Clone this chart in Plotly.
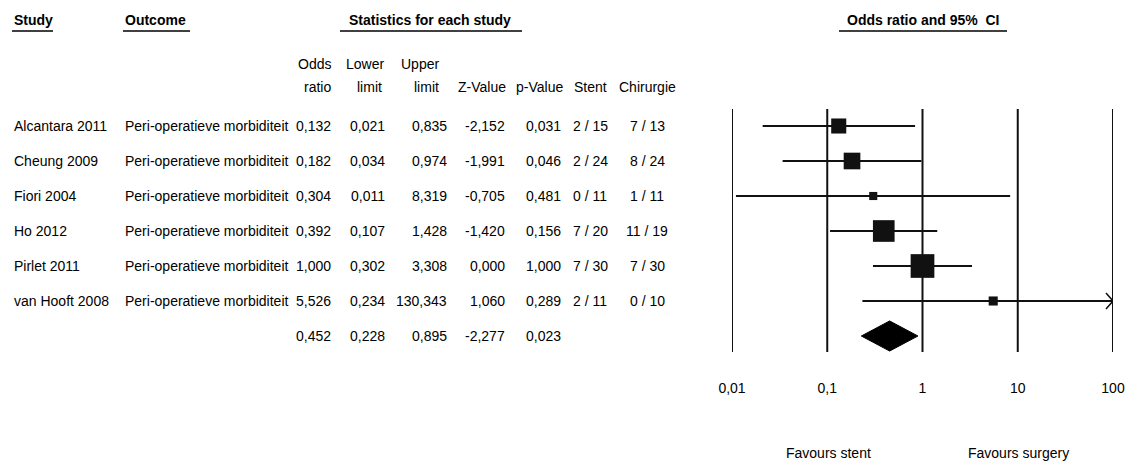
import plotly.graph_objects as go

W, H = 1129, 467

studies = ["Alcantara 2011", "Cheung 2009", "Fiori 2004", "Ho 2012", "Pirlet 2011", "van Hooft 2008"]
outcome = "Peri-operatieve morbiditeit"
odds_ratio = [0.132, 0.182, 0.304, 0.392, 1.000, 5.526]
lower = [0.021, 0.034, 0.011, 0.107, 0.302, 0.234]
upper = [0.835, 0.974, 8.319, 1.428, 3.308, 130.343]
z_value = [-2.152, -1.991, -0.705, -1.420, 0.000, 1.060]
p_value = [0.031, 0.046, 0.481, 0.156, 1.000, 0.289]
stent = ["2 / 15", "2 / 24", "0 / 11", "7 / 20", "7 / 30", "2 / 11"]
chirurgie = ["7 / 13", "8 / 24", "1 / 11", "11 / 19", "7 / 30", "0 / 10"]
weights = [13.5, 16.5, 3.9, 27.9, 33.4, 4.9]  # relative weight (box size)

sum_or, sum_lo, sum_hi, sum_z, sum_p = 0.452, 0.228, 0.895, -2.277, 0.023

tick_vals = [0.01, 0.1, 1, 10, 100]
tick_text = ["0,01", "0,1", "1", "10", "100"]
x_min, x_max = 0.01, 100

FONT = "Liberation Sans, Arial, sans-serif"
FS = 14
INK = "#111111"

# plot area in pixels
PX_L, PX_R, PX_T, PX_B = 732, 1113, 109, 352
px_per_decade = (PX_R - PX_L) / 4.0
row_px = 35.0


def fmt(v):
    return f"{v:.3f}".replace(".", ",")


def px(x):
    return x / W


def py(y):
    return 1 - y / H


fig = go.Figure()

n = len(studies)
# CI lines
for i in range(n):
    fig.add_trace(go.Scatter(
        x=[lower[i], min(upper[i], x_max)], y=[i, i], mode="lines",
        line=dict(color=INK, width=2), hoverinfo="skip", showlegend=False))

# open arrow head where the CI is truncated
for i in range(n):
    if upper[i] > x_max:
        back = x_max / 10 ** (7 / px_per_decade)
        dy = 8 / row_px
        fig.add_trace(go.Scatter(
            x=[back, x_max, back], y=[i - dy, i, i + dy], mode="lines",
            line=dict(color=INK, width=1.5), hoverinfo="skip", showlegend=False))

# boxes sized by weight
fig.add_trace(go.Scatter(
    x=odds_ratio, y=list(range(n)), mode="markers", opacity=1,
    marker=dict(symbol="square", color=INK, opacity=1,
                size=[4.1 * w ** 0.5 for w in weights], line=dict(width=0)),
    hoverinfo="skip", showlegend=False))

# summary diamond
srow = n
fig.add_trace(go.Scatter(
    x=[sum_lo, sum_or, sum_hi, sum_or, sum_lo],
    y=[srow, srow - 0.43, srow, srow + 0.43, srow],
    mode="lines", fill="toself", fillcolor="#000000",
    line=dict(color="#000000", width=1), hoverinfo="skip", showlegend=False))

shapes = []
# vertical reference lines at ticks
for tv in tick_vals:
    shapes.append(dict(type="line", xref="x", yref="y domain", x0=tv, x1=tv, y0=0, y1=1,
                       line=dict(color=INK, width=2), layer="below"))

# header underlines
for x0, x1 in [(12, 53), (123, 190), (340, 522), (839, 1007)]:
    shapes.append(dict(type="line", xref="paper", yref="paper", x0=px(x0), x1=px(x1),
                       y0=py(31), y1=py(31), line=dict(color="black", width=1.5)))

ann = []


def add_text(text, x, y, anchor="left", yref="paper", bold=False, size=FS):
    ann.append(dict(text=f"<b>{text}</b>" if bold else text, x=px(x),
                    y=py(y) if yref == "paper" else y, xref="paper", yref=yref,
                    xanchor=anchor, yanchor="middle", showarrow=False,
                    font=dict(family=FONT, size=size, color="black")))


# headers
add_text("Study", 12, 20, bold=True)
add_text("Outcome", 123, 20, bold=True)
add_text("Statistics for each study", 430, 20, anchor="center", bold=True)
add_text("Odds ratio and 95%\u00a0 CI", 923, 20, anchor="center", bold=True)

col_x = dict(orr=333, lo=387, hi=449, z=507, p=563, st=590, ch=647)
add_text("Odds", 333, 64, "right")
add_text("ratio", 333, 87, "right")
add_text("Lower", 386, 64, "right")
add_text("limit", 384, 87, "right")
add_text("Upper", 441, 64, "right")
add_text("limit", 441, 87, "right")
add_text("Z-Value", 508, 87, "right")
add_text("p-Value", 565, 87, "right")
add_text("Stent", 590, 87, "center")
add_text("Chirurgie", 647, 87, "center")

for i in range(n):
    add_text(studies[i], 12, i, "left", yref="y")
    add_text(outcome, 123, i, "left", yref="y")
    add_text(fmt(odds_ratio[i]), col_x["orr"], i, "right", yref="y")
    add_text(fmt(lower[i]), col_x["lo"], i, "right", yref="y")
    add_text(fmt(upper[i]), col_x["hi"], i, "right", yref="y")
    add_text(fmt(z_value[i]), col_x["z"], i, "right", yref="y")
    add_text(fmt(p_value[i]), col_x["p"], i, "right", yref="y")
    add_text(stent[i], col_x["st"], i, "center", yref="y")
    add_text(chirurgie[i], col_x["ch"], i, "center", yref="y")

for val, key in [(sum_or, "orr"), (sum_lo, "lo"), (sum_hi, "hi"), (sum_z, "z"), (sum_p, "p")]:
    add_text(fmt(val), col_x[key], srow, "right", yref="y")

add_text("Favours stent", 828, 453, "center")
add_text("Favours surgery", 1018, 453, "center")

top_row = -(17 / row_px)
bot_row = (PX_B - 126) / row_px

fig.update_layout(
    width=W, height=H, margin=dict(l=0, r=0, t=0, b=0, autoexpand=False),
    paper_bgcolor="white", plot_bgcolor="white",
    shapes=shapes, annotations=ann, showlegend=False,
    xaxis=dict(type="log", range=[-2, 2], domain=[px(PX_L), px(PX_R)],
               showgrid=False, zeroline=False, showline=False, automargin=False,
               tickmode="array", tickvals=tick_vals, ticktext=tick_text,
               ticks="", ticklabelstandoff=26,
               tickfont=dict(family=FONT, size=FS, color="black")),
    yaxis=dict(range=[bot_row, top_row], domain=[py(PX_B), py(PX_T)], visible=False),
)

fig.write_html("out.html", config={"staticPlot": True, "displayModeBar": False},
               post_script="document.body.style.margin='0';document.body.style.overflow='hidden';")
